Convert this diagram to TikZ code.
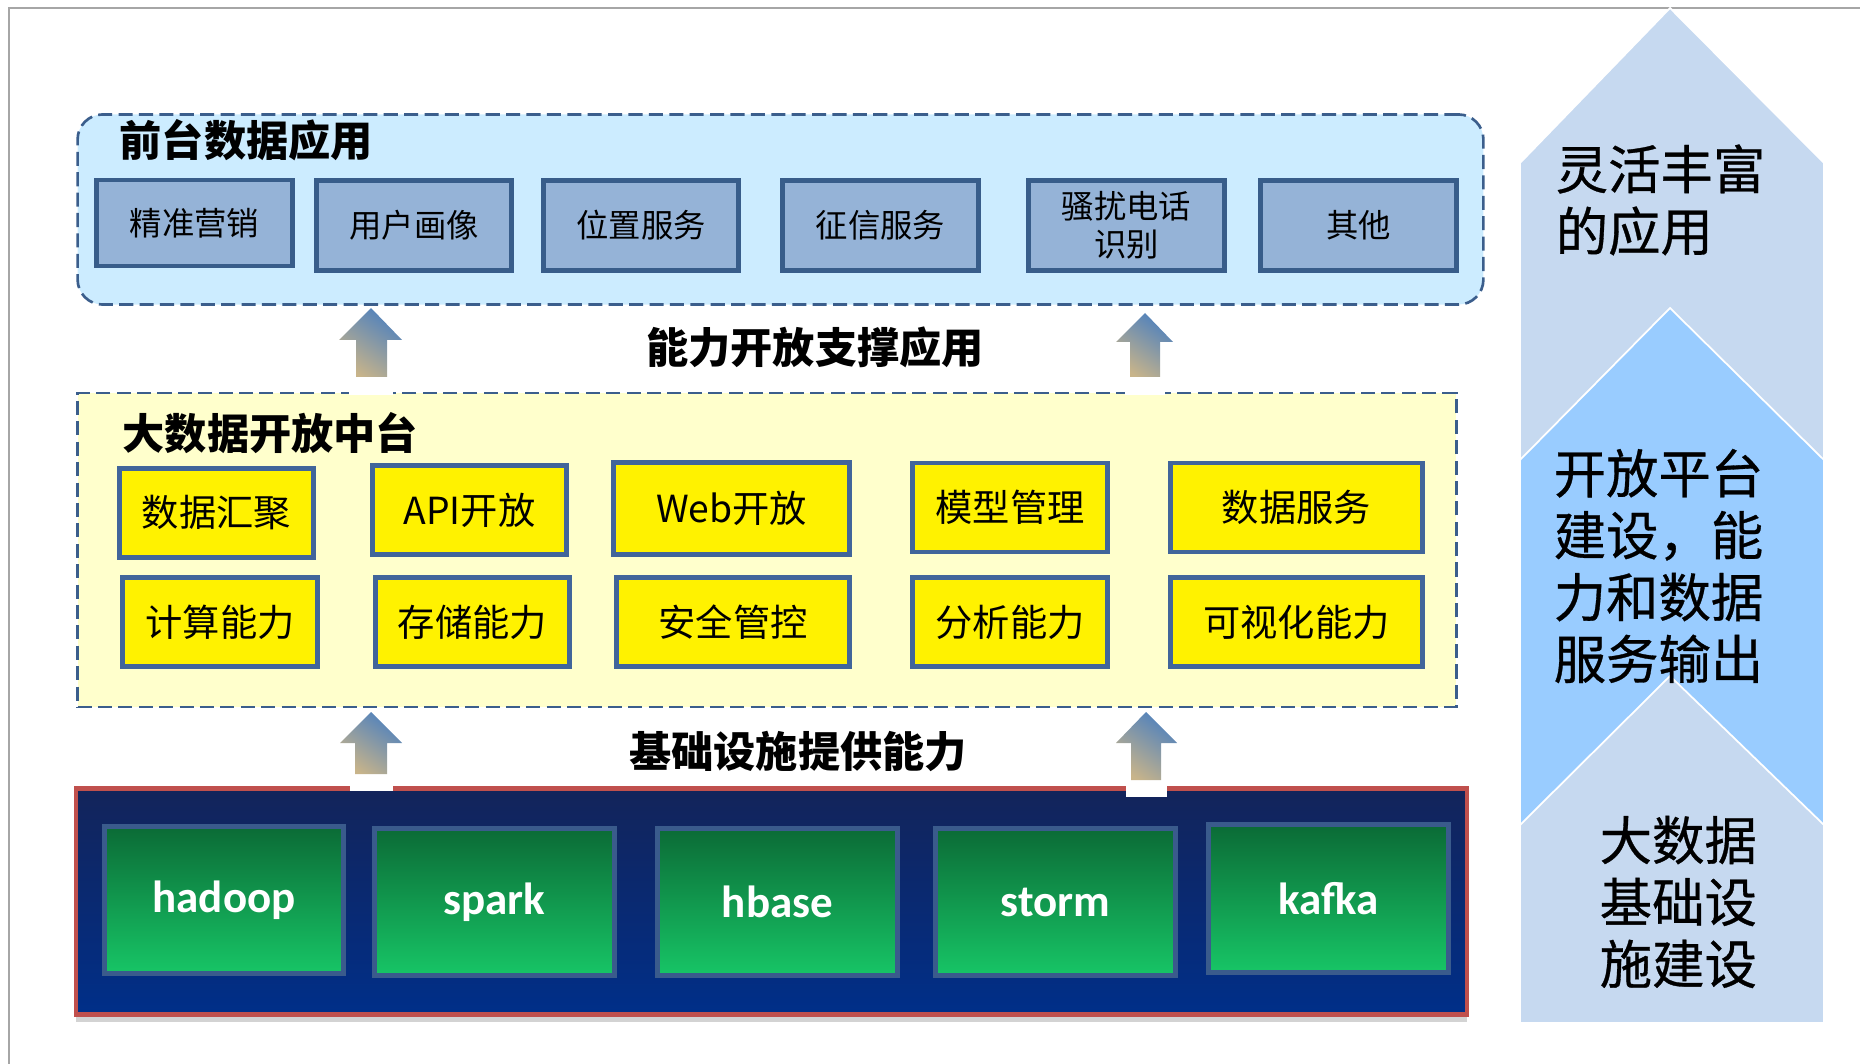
\documentclass[tikz,border=0pt]{standalone}
\usepackage{fontspec}
\setmainfont{Noto Sans CJK SC}
\newfontfamily\latinfont{Carlito}
\newfontfamily\sidefont{Noto Sans CJK SC}[FakeBold=0.6]
\usetikzlibrary{positioning, shadows}

\definecolor{framegray}{HTML}{A6A6A6}
\definecolor{dashblue}{HTML}{3B5E8C}
\definecolor{frontfill}{HTML}{CCECFF}
\definecolor{appfill}{HTML}{95B3D7}
\definecolor{appedge}{HTML}{385D8A}
\definecolor{midfill}{HTML}{FFFFCC}
\definecolor{funcedge}{HTML}{41659A}
\definecolor{navytop}{HTML}{13245A}
\definecolor{navybot}{HTML}{002F89}
\definecolor{infraedge}{HTML}{C0504D}
\definecolor{greentop}{HTML}{0B6B36}
\definecolor{greenbot}{HTML}{17C566}
\definecolor{greenedge}{HTML}{3A5B8C}
\definecolor{paleblue}{HTML}{C6D9F0}
\definecolor{skyblue}{HTML}{99CCFF}
\definecolor{arrowblue}{HTML}{4F81BD}
\definecolor{arrowtan}{HTML}{C8B48A}

\begin{document}
\begin{tikzpicture}[
    x=0.01cm, y=-0.01cm,
    every node/.style={inner sep=0pt},
    layer/.style={draw=dashblue, line width=0.75pt, dash pattern=on 4pt off 1.8pt},
    layertitle/.style={anchor=west, font=\fontsize{12}{14}\selectfont\bfseries},
    arrowtext/.style={font=\fontsize{12}{14}\selectfont\bfseries},
    appbox/.style={draw=appedge, fill=appfill, line width=1.4pt, minimum width=1.95cm,
        minimum height=0.9cm, align=center, font=\fontsize{9.2}{10.8}\selectfont},
    funcbox/.style={draw=funcedge, fill=yellow, line width=1.4pt, minimum height=0.89cm,
        font=\fontsize{10.6}{12}\selectfont},
    toolbox/.style={draw=greenedge, top color=greentop, bottom color=greenbot, line width=1.4pt,
        minimum width=2.39cm, minimum height=1.47cm, text=white,
        font=\latinfont\fontsize{12.8}{14}\selectfont\bfseries},
    uparrow/.style={top color=arrowblue, middle color=arrowblue, bottom color=arrowtan, shading angle=-35},
    gap/.style={fill=white},
    sidetext/.style={anchor=west, align=left, font=\sidefont\fontsize{14.9}{17.6}\selectfont}
]

\useasboundingbox (0,0) rectangle (1860,1064);
\draw[framegray, line width=0.6pt] (9,1064) -- (9,8) -- (1860,8);

% right column
\filldraw[fill=paleblue, draw=white, line width=0.5pt]
    (1520,1023) -- (1520,163) -- (1670,8) -- (1824,163) -- (1824,1023) -- cycle;
\filldraw[fill=skyblue, draw=white, line width=0.5pt]
    (1520,1023) -- (1520,460) -- (1670,308) -- (1824,460) -- (1824,1023) -- cycle;
\filldraw[fill=paleblue, draw=white, line width=0.5pt]
    (1520,1023) -- (1520,825) -- (1670,676) -- (1824,825) -- (1824,1023) -- cycle;
\node[sidetext] (flexapp) at (1555,200) {灵活丰富\\的应用};
\node[sidetext] (openplat) at (1553,566) {开放平台\\建设，能\\力和数据\\服务输出};
\node[sidetext] (infrabuild) at (1599,902) {大数据\\基础设\\施建设};

% layers
\node[layer, fill=frontfill, rounded corners=0.25cm, minimum width=14.05cm, minimum height=1.9cm]
    (front) at (780.5,209.5) {};
\node[layer, fill=midfill, minimum width=13.78cm, minimum height=3.14cm] (platform) at (767,550) {};
\node[draw=infraedge, line width=1.2pt, top color=navytop, bottom color=navybot,
    minimum width=13.9cm, minimum height=2.26cm,
    drop shadow={shadow xshift=0pt, shadow yshift=-2pt, opacity=0.35}] (infra) at (771.5,901.5) {};

\node[layertitle] (fronttitle) at (119,140) {前台数据应用};
\node[layertitle] (platformtitle) at (122,433) {大数据开放中台};

% front apps
\node[appbox, minimum height=0.86cm] (marketing) at (194.5,223) {精准营销};
\node[appbox] (portrait) at (414,225.5) {用户画像};
\node[appbox] (location) at (641,225.5) {位置服务};
\node[appbox] (credit) at (880.5,225.5) {征信服务};
\node[appbox] (spamcall) at (1126.5,225.5) {骚扰电话\\识别};
\node[appbox] (others) at (1358.5,225.5) {其他};

% platform functions
\node[funcbox, minimum width=1.94cm] (gather) at (216.5,513) {数据汇聚};
\node[funcbox, minimum width=1.94cm] (apiopen) at (469.5,510) {API开放};
\node[funcbox, minimum width=2.36cm, minimum height=0.92cm] (webopen) at (731.5,508.5) {Web开放};
\node[funcbox, minimum width=1.95cm] (model) at (1010,507.5) {模型管理};
\node[funcbox, minimum width=2.52cm] (dataserv) at (1296.5,507.5) {数据服务};

\node[funcbox, minimum width=1.95cm] (compute) at (220,622) {计算能力};
\node[funcbox, minimum width=1.94cm] (storage) at (472.5,622) {存储能力};
\node[funcbox, minimum width=2.33cm] (security) at (733,622) {安全管控};
\node[funcbox, minimum width=1.95cm] (analysis) at (1010,622) {分析能力};
\node[funcbox, minimum width=2.52cm] (visual) at (1296.5,622) {可视化能力};

% infrastructure
\node[toolbox] (hadoop) at (224,900) {hadoop};
\node[toolbox] (spark) at (494.5,902) {spark};
\node[toolbox] (hbase) at (777.5,902) {hbase};
\node[toolbox] (storm) at (1055.5,902) {storm};
\node[toolbox] (kafka) at (1328.5,898.5) {kafka};

% block arrows between layers
\fill[gap] (349,377) rectangle (393,395);
\fill[gap] (1125,377) rectangle (1165,395);
\fill[gap] (350,774) rectangle (393,791);
\fill[gap] (1126,780) rectangle (1167,797);
\shade[uparrow] (356,377) -- (356,340) -- (339,340) -- (371,308) -- (402,340) -- (387,340) -- (387,377) -- cycle;
\shade[uparrow] (1130,377) -- (1130,342) -- (1116,342) -- (1145,313) -- (1173,342) -- (1160,342) -- (1160,377) -- cycle;
\shade[uparrow] (355,774) -- (355,743) -- (340,743) -- (371,712) -- (402,743) -- (387,743) -- (387,774) -- cycle;
\shade[uparrow] (1131,780) -- (1131,743) -- (1116,743) -- (1146,712) -- (1177,743) -- (1161,743) -- (1161,780) -- cycle;

\node[arrowtext] (openlabel) at (815,347) {能力开放支撑应用};
\node[arrowtext] (infralabel) at (798,751) {基础设施提供能力};

\end{tikzpicture}
\end{document}
